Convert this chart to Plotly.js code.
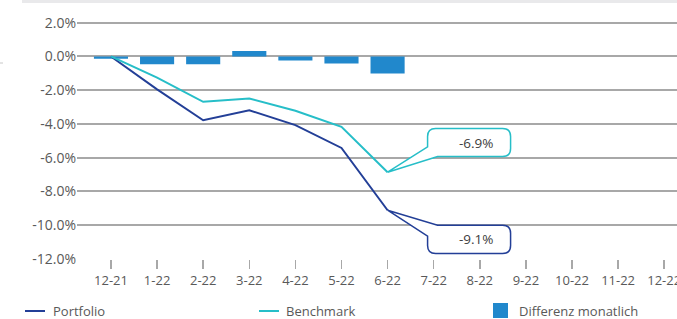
<!DOCTYPE html>
<html>
<head>
<meta charset="utf-8">
<script src="https://cdn.plot.ly/plotly-3.0.1.min.js"></script>
<style>html,body{margin:0;padding:0;background:#fff;}#chart{width:677px;height:319px;}</style>
</head>
<body>
<div id="chart"></div>
<script>
const categories = ['12-21','1-22','2-22','3-22','4-22','5-22','6-22','7-22','8-22','9-22','10-22','11-22','12-22'];
const portfolio = [0, -1.95, -3.78, -3.19, -4.07, -5.42, -9.11];
const benchmark = [0, -1.25, -2.69, -2.49, -3.22, -4.17, -6.86];
const differenz = [-0.13, -0.46, -0.46, 0.33, -0.24, -0.42, -1.01];
const yTickVals = [2, 0, -2, -4, -6, -8, -10, -12];
const yTickText = ['2.0%', '0.0%', '-2.0%', '-4.0%', '-6.0%', '-8.0%', '-10.0%', '-12.0%'];
const seriesNames = ['Portfolio', 'Benchmark', 'Differenz monatlich'];

const cPort = '#233F97', cBench = '#26BEC8', cBar = '#2188CC';
const font = 'Open Sans, Noto Sans, sans-serif';
const W = 677, H = 319, mL = 77, mR = 0, mT = 21, mB = 60;
const plotW = W - mL - mR, plotH = H - mT - mB;
const px2x = p => (p - mL) / plotW;
const py2y = p => 1 - (p - mT) / plotH;

const traces = [
  {type: 'bar', name: seriesNames[2], x: categories.slice(0, differenz.length), y: differenz,
   marker: {color: cBar}, width: 0.74, showlegend: false},
  {type: 'scatter', mode: 'lines', name: seriesNames[0], x: categories.slice(0, portfolio.length), y: portfolio,
   line: {color: cPort, width: 2}, showlegend: false},
  {type: 'scatter', mode: 'lines', name: seriesNames[1], x: categories.slice(0, benchmark.length), y: benchmark,
   line: {color: cBench, width: 2}, showlegend: false}
];

const lastI = portfolio.length - 1;
const r = 8;
// callout paths in pixel offsets from the last data point (y up)
function calloutUp() {
  const L = 40, R = 123, T = 43.7, B = 15.7;
  return `M0,0 L${L},25.4 L${L},${T - r} Q${L},${T} ${L + r},${T} L${R - r},${T} Q${R},${T} ${R},${T - r} L${R},${B + r} Q${R},${B} ${R - r},${B} L50,${B} Z`;
}
function calloutDown() {
  const L = 40, R = 123, T = -15, B = -43.3;
  return `M0,0 L50,${T} L${R - r},${T} Q${R},${T} ${R},${T - r} L${R},${B + r} Q${R},${B} ${R - r},${B} L${L + r},${B} Q${L},${B} ${L},${B + r} L${L},-26 Z`;
}

const shapes = [
  {type: 'rect', xref: 'paper', yref: 'paper', x0: px2x(22), x1: px2x(677), y0: py2y(3), y1: py2y(0),
   fillcolor: '#E9E9EB', line: {width: 0}},
  {type: 'line', xref: 'paper', yref: 'paper', x0: px2x(0), x1: px2x(3), y0: py2y(63), y1: py2y(63),
   line: {color: '#C8C8C8', width: 1}},
  {type: 'path', xref: 'x', yref: 'y', xsizemode: 'pixel', ysizemode: 'pixel',
   xanchor: categories[lastI], yanchor: benchmark[lastI], path: calloutUp(),
   fillcolor: '#FFFFFF', line: {color: cBench, width: 1.5}},
  {type: 'path', xref: 'x', yref: 'y', xsizemode: 'pixel', ysizemode: 'pixel',
   xanchor: categories[lastI], yanchor: portfolio[lastI], path: calloutDown(),
   fillcolor: '#FFFFFF', line: {color: cPort, width: 1.5}},
  // legend symbols
  {type: 'line', xref: 'paper', yref: 'paper', x0: px2x(25), x1: px2x(45), y0: py2y(311), y1: py2y(311),
   line: {color: cPort, width: 2}},
  {type: 'line', xref: 'paper', yref: 'paper', x0: px2x(259), x1: px2x(279), y0: py2y(311), y1: py2y(311),
   line: {color: cBench, width: 2}},
  {type: 'rect', xref: 'paper', yref: 'paper', x0: px2x(493), x1: px2x(508), y0: py2y(318), y1: py2y(303),
   fillcolor: cBar, line: {width: 0}}
];

const annotations = [
  {x: categories[lastI], y: benchmark[lastI], xref: 'x', yref: 'y', xshift: 89, yshift: 29.5,
   text: benchmark[lastI].toFixed(1) + '%', showarrow: false, font: {family: font, size: 13.5, color: '#404040'}},
  {x: categories[lastI], y: portfolio[lastI], xref: 'x', yref: 'y', xshift: 89, yshift: -28.8,
   text: portfolio[lastI].toFixed(1) + '%', showarrow: false, font: {family: font, size: 13.5, color: '#404040'}},
  {x: px2x(51), y: py2y(311), xref: 'paper', yref: 'paper', xanchor: 'left', yanchor: 'middle',
   text: seriesNames[0], showarrow: false, font: {family: font, size: 13, color: '#595959'}},
  {x: px2x(284), y: py2y(311), xref: 'paper', yref: 'paper', xanchor: 'left', yanchor: 'middle',
   text: seriesNames[1], showarrow: false, font: {family: font, size: 13, color: '#595959'}},
  {x: px2x(517), y: py2y(311), xref: 'paper', yref: 'paper', xanchor: 'left', yanchor: 'middle',
   text: seriesNames[2], showarrow: false, font: {family: font, size: 13, color: '#595959'}}
];

const layout = {
  width: W, height: H,
  margin: {l: mL, r: mR, t: mT, b: mB, pad: 0},
  paper_bgcolor: '#FFFFFF', plot_bgcolor: '#FFFFFF',
  showlegend: false, hovermode: false, barmode: 'overlay',
  font: {family: font, color: '#595959'},
  xaxis: {
    type: 'category', categoryorder: 'array', categoryarray: categories,
    range: [-0.737, 12.278], showgrid: false, zeroline: false, showline: false,
    ticks: 'outside', ticklen: 9, tickwidth: 1.5, tickcolor: '#A8A8A8',
    tickfont: {family: font, size: 13, color: '#595959'}, fixedrange: true
  },
  yaxis: {
    range: [-12, 2.1], tickvals: yTickVals, ticktext: yTickText,
    showgrid: true, gridcolor: '#A8A8A8', gridwidth: 2, zeroline: false, showline: false,
    ticks: '', tickfont: {family: font, size: 14, color: '#595959'}, fixedrange: true
  },
  shapes: shapes, annotations: annotations
};

Plotly.newPlot('chart', traces, layout, {displayModeBar: false, staticPlot: true});
</script>
</body>
</html>
